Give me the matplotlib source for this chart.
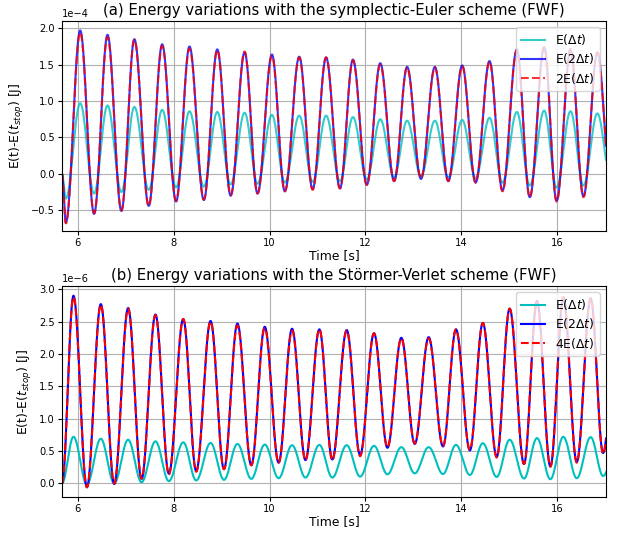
import numpy as np
import matplotlib
matplotlib.use("Agg")
import matplotlib.pyplot as plt

# time window of the run
t_start = 5.67
t_stop = 17.02

# (a) symplectic-Euler: alternating extrema, trough first (values in 1e-4 J)
ta = [5.75, 6.05, 6.34, 6.62, 6.91, 7.18, 7.48, 7.76, 8.05, 8.33,
      8.63, 8.91, 9.19, 9.48, 9.75, 10.05, 10.32, 10.62, 10.90, 11.18,
      11.47, 11.74, 12.03, 12.31, 12.60, 12.87, 13.16, 13.45, 13.73, 14.02,
      14.30, 14.59, 14.86, 15.16, 15.43, 15.73, 15.99, 16.28, 16.55, 16.84,
      17.12]
ea_dt = [-0.34, 0.97, -0.27, 0.94, -0.25, 0.92, -0.22, 0.88, -0.185, 0.86,
         -0.175, 0.85, -0.145, 0.84, -0.135, 0.81, -0.12, 0.80, -0.11, 0.80,
         -0.10, 0.78, -0.075, 0.75, -0.05, 0.73, -0.03, 0.73, -0.05, 0.74,
         -0.06, 0.77, -0.12, 0.85, -0.16, 0.87, -0.19, 0.86, -0.16, 0.83,
         -0.06]
ea_2dt = [-0.67, 1.97, -0.55, 1.91, -0.51, 1.85, -0.44, 1.78, -0.38, 1.75,
          -0.36, 1.71, -0.30, 1.67, -0.27, 1.64, -0.24, 1.61, -0.21, 1.60,
          -0.20, 1.57, -0.15, 1.52, -0.10, 1.47, -0.07, 1.47, -0.10, 1.49,
          -0.12, 1.55, -0.23, 1.71, -0.32, 1.74, -0.37, 1.70, -0.31, 1.67,
          -0.12]

# (b) Stormer-Verlet: alternating extrema, peak first (values in 1e-6 J)
tb = [5.91, 6.19, 6.48, 6.76, 7.05, 7.33, 7.62, 7.90, 8.20, 8.47,
      8.77, 9.05, 9.33, 9.62, 9.90, 10.19, 10.47, 10.75, 11.04, 11.31,
      11.61, 11.89, 12.18, 12.46, 12.75, 13.03, 13.32, 13.62, 13.89, 14.18,
      14.45, 14.74, 15.01, 15.31, 15.58, 15.86, 16.13, 16.41, 16.70, 16.96,
      17.26]
eb_dt = [0.72, -0.015, 0.69, 0.0, 0.675, 0.018, 0.65, 0.035, 0.635, 0.045,
         0.625, 0.055, 0.61, 0.07, 0.60, 0.08, 0.59, 0.09, 0.595, 0.09,
         0.59, 0.105, 0.58, 0.14, 0.56, 0.155, 0.56, 0.145, 0.595, 0.13,
         0.62, 0.10, 0.675, 0.075, 0.70, 0.065, 0.72, 0.08, 0.715, 0.115,
         0.70]
eb_2dt = [2.90, -0.06, 2.77, -0.01, 2.71, 0.07, 2.61, 0.15, 2.54, 0.19,
          2.51, 0.22, 2.47, 0.28, 2.42, 0.32, 2.39, 0.36, 2.38, 0.37,
          2.37, 0.44, 2.32, 0.55, 2.25, 0.61, 2.26, 0.57, 2.38, 0.51,
          2.48, 0.41, 2.70, 0.30, 2.82, 0.26, 2.86, 0.33, 2.86, 0.47,
          2.80]


def wave(t_ext, v_ext, t):
    # smooth half-cosine passes between successive extrema
    t_ext = np.concatenate([[t_start], t_ext])
    v_ext = np.concatenate([[0.0], v_ext])
    i = np.clip(np.searchsorted(t_ext, t, side="right") - 1, 0, len(t_ext) - 2)
    f = (t - t_ext[i]) / (t_ext[i + 1] - t_ext[i])
    return v_ext[i] + (v_ext[i + 1] - v_ext[i]) * (1 - np.cos(np.pi * f)) / 2


t = np.linspace(t_start, t_stop, 3000)

Ea1 = wave(ta, ea_dt, t) * 1e-4
Ea2 = wave(ta, ea_2dt, t) * 1e-4
Eb1 = wave(tb, eb_dt, t) * 1e-6
Eb2 = wave(tb, eb_2dt, t) * 1e-6

fig = plt.figure(figsize=(6.23, 5.34), dpi=100)
ax1 = fig.add_axes([0.0995, 0.5674, 0.8732, 0.3933])
ax2 = fig.add_axes([0.0995, 0.0693, 0.8732, 0.3951])

ax1.plot(t, Ea1, color='c', lw=1.5, alpha=0.8, label=r'E($\Delta t$)')
ax1.plot(t, Ea2, color='b', lw=1.5, alpha=0.8, label=r'E(2$\Delta t$)')
ax1.plot(t, 2 * Ea1, 'r--', lw=1.5, alpha=0.8, label=r'2E($\Delta t$)')
ax1.set_ylim(-0.785e-4, 2.10e-4)
ax1.set_title('(a) Energy variations with the symplectic-Euler scheme (FWF)',
              fontsize=10.7, pad=4)

ax2.plot(t, Eb1, color='c', lw=1.5, label=r'E($\Delta t$)')
ax2.plot(t, Eb2, color='b', lw=1.5, label=r'E(2$\Delta t$)')
ax2.plot(t, 4 * Eb1, 'r--', lw=1.5, label=r'4E($\Delta t$)')
ax2.set_ylim(-0.21e-6, 3.05e-6)
ax2.set_title('(b) Energy variations with the Störmer-Verlet scheme (FWF)',
              fontsize=10.7, pad=4)

for ax in (ax1, ax2):
    ax.set_xlim(t_start, t_stop)
    ax.set_xticks([6, 8, 10, 12, 14, 16])
    ax.set_xlabel('Time [s]', fontsize=8.9, labelpad=1)
    ax.set_ylabel(r'E(t)-E($t_{stop}$) [J]', fontsize=8.9)
    ax.ticklabel_format(style='sci', axis='y', scilimits=(0, 0))
    ax.tick_params(labelsize=7.1, length=3, pad=2)
    ax.yaxis.get_offset_text().set_fontsize(7.1)
    ax.grid(True)
    ax.legend(loc='upper right', fontsize=8.9, labelspacing=0.35)

fig.savefig('out.png', dpi=100)
